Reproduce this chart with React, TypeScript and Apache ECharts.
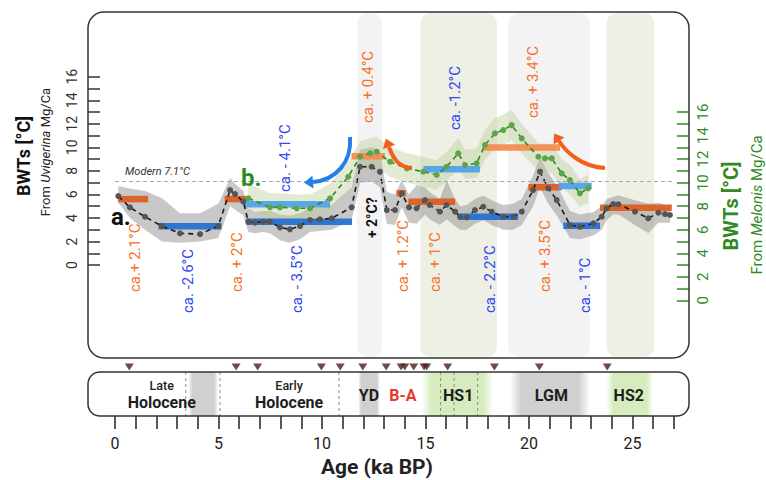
import { useEffect, useRef } from 'react';
import * as echarts from 'echarts';

const FONT = 'Roboto, "Noto Sans", sans-serif';

// Bottom-water temperature from Uvigerina Mg/Ca (left axis, °C)
const UVI_AGE = [0.16, 0.72, 1.45, 2.26, 3.14, 4.11, 4.99, 5.56, 5.8, 6.2, 6.44, 6.76, 7.16, 7.49, 7.97, 8.45, 8.94, 9.42, 9.9, 10.47, 11.43, 11.84, 12.4, 12.8, 13.13, 13.53, 13.85, 14.2, 14.57, 14.98, 15.2, 15.7, 16.02, 16.43, 16.67, 16.99, 17.39, 17.79, 18.2, 18.76, 19.24, 19.65, 20.2, 20.53, 20.93, 21.34, 21.98, 22.46, 23.11, 23.51, 23.75, 24.07, 24.32, 25.12, 25.76, 26.25, 26.57, 26.81];
const UVI_BWT = [5.86, 4.9, 4.1, 3.31, 2.69, 2.63, 3.31, 6.37, 6.03, 5.38, 3.68, 3.6, 3.68, 3.68, 3.2, 3.03, 3.31, 3.82, 3.88, 3.97, 4.9, 8.35, 8.35, 7.93, 4.67, 4.67, 6.09, 4.9, 4.82, 5.52, 5.1, 4.53, 5.1, 4.53, 4.1, 4.05, 4.67, 4.95, 4.53, 4.1, 4.1, 4.53, 6.37, 7.93, 6.52, 5.52, 3.4, 3.25, 3.54, 4.1, 4.82, 5.18, 5.16, 4.53, 3.97, 4.44, 4.33, 4.25];
const UVI_LO = [5.3, 4.0, 3.0, 2.0, 1.9, 2.0, 2.3, 5.0, 4.7, 4.2, 2.8, 2.7, 2.8, 2.7, 2.1, 1.9, 2.2, 2.8, 2.9, 3.0, 3.8, 7.0, 7.1, 6.6, 3.5, 3.4, 4.9, 3.6, 3.5, 4.3, 3.9, 3.4, 3.9, 3.3, 3.0, 3.0, 3.5, 3.8, 3.4, 3.0, 3.0, 3.4, 5.0, 6.6, 5.2, 4.2, 2.3, 2.2, 2.5, 3.0, 3.8, 4.3, 4.3, 3.4, 2.7, 3.6, 3.6, 3.6];
const UVI_HI = [6.7, 6.5, 6.3, 5.7, 4.4, 4.4, 5.2, 7.4, 6.9, 6.3, 4.8, 4.5, 4.6, 4.6, 4.3, 4.2, 4.4, 4.9, 4.9, 5.1, 6.6, 9.8, 10.0, 9.6, 6.2, 6.0, 7.2, 6.0, 6.8, 6.6, 6.2, 5.6, 7.2, 5.6, 5.0, 5.1, 5.6, 5.9, 5.5, 5.1, 5.2, 5.6, 7.6, 9.2, 7.8, 6.8, 4.6, 4.3, 4.5, 5.0, 5.6, 5.8, 5.9, 5.5, 5.2, 5.3, 5.1, 5.0];

// Bottom-water temperature from Melonis Mg/Ca (right axis, °C)
const MEL_AGE = [6.44, 7.49, 7.97, 8.78, 9.42, 10.39, 11.27, 11.84, 12.32, 12.64, 13.29, 14.1, 14.9, 15.54, 16.02, 16.58, 16.91, 17.47, 17.87, 18.36, 18.76, 19.16, 19.65, 20.45, 20.77, 21.1, 21.58, 21.98, 22.46, 22.86];
const MEL_BWT = [8.67, 7.9, 7.9, 7.82, 7.82, 8.67, 10.5, 12.2, 12.49, 12.63, 11.78, 11.2, 10.93, 10.65, 11.35, 12.49, 11.5, 11.64, 13.2, 14.19, 14.47, 14.89, 13.76, 12.2, 12.06, 12.06, 10.79, 10.22, 9.09, 9.52];
const MEL_LO = [7.6, 6.8, 6.7, 6.6, 6.6, 7.4, 9.2, 10.9, 11.2, 11.3, 10.5, 10.0, 9.7, 9.4, 10.1, 11.2, 10.3, 10.4, 11.9, 12.9, 13.2, 13.6, 12.5, 11.0, 10.8, 10.8, 9.6, 9.0, 7.9, 8.3];
const MEL_HI = [9.9, 9.1, 9.1, 9.0, 9.0, 9.9, 11.8, 13.5, 13.8, 13.9, 13.0, 12.5, 12.2, 11.9, 12.6, 13.8, 12.8, 12.9, 14.5, 15.5, 15.8, 16.2, 15.0, 13.4, 13.3, 13.3, 12.0, 11.5, 10.3, 10.7];

// Mean levels per interval: [from ka, to ka, °C]
const UVI_WARM = [[0.15, 1.6, 5.6], [5.3, 6.36, 5.6], [13.6, 14.05, 6.1], [14.17, 16.43, 5.38], [19.97, 21.58, 6.6], [23.43, 26.9, 4.87]];
const UVI_COLD = [[2.1, 5.15, 3.3], [6.36, 11.45, 3.68], [16.58, 19.48, 4.1], [21.66, 23.43, 3.34]];
const MEL_WARM = [[11.43, 13.04, 12.24], [17.79, 21.5, 12.98]];
const MEL_COLD = [[6.28, 10.39, 8.16], [14.9, 17.63, 11.14], [21.42, 23.03, 9.72]];

const MODERN_BWT = 7.1;

// Temperature-change notes: text, age, base level (left axis), tone (0 warm, 1 cold, 2 note)
const CHANGE_TEXT = ['ca.+ 2.1°C', 'ca. -2.6°C', 'ca. + 2°C', 'ca. - 3.5°C', '+ 2°C?', 'ca. + 1.2°C', 'ca. + 1°C', 'ca. - 2.2°C', 'ca. + 3.5°C', 'ca. - 1°C', 'ca. - 4.1°C', 'ca. + 0.4°C', 'ca. -1.2°C', 'ca. + 3.4°C'];
const CHANGE_AGE = [0.97, 3.54, 5.88, 8.78, 12.4, 13.93, 15.46, 18.12, 20.77, 22.71, 8.21, 12.22, 16.43, 20.2];
const CHANGE_BASE = [-2.29, -4.08, -2.29, -4.08, 2.29, -2.29, -2.29, -4.08, -2.29, -4.08, 6.2, 12.06, 11.47, 12.49];
const CHANGE_TONE = [0, 1, 0, 1, 2, 0, 0, 1, 0, 1, 1, 0, 1, 0];

// Climate periods shaded behind the records
const PERIOD_START = [11.7, 14.75, 19.0, 23.75];
const PERIOD_END = [12.9, 18.45, 22.95, 26.05];
const PERIOD_TONE = [0, 1, 0, 1]; // 0 grey, 1 green

// Chronostratigraphic strip
const STRIP_BAND_START = [3.54, 11.75, 14.82, 19.08, 23.75];
const STRIP_BAND_END = [4.99, 12.8, 18.28, 22.95, 26.0];
const STRIP_BAND_TONE = [0, 0, 1, 0, 1];
const STRIP_BOUNDARIES = [3.42, 5.07, 10.82, 15.73, 16.38, 17.52];
const STRIP_TEXT = ['Late', 'Holocene', 'Early', 'Holocene', 'YD', 'B-A', 'HS1', 'LGM', 'HS2'];
const STRIP_TEXT_AGE = [2.26, 2.26, 8.41, 8.41, 12.27, 13.91, 16.58, 21.08, 24.82];
const STRIP_TEXT_ROW = [0, 1, 0, 1, 2, 2, 2, 2, 2];
const DATED_LEVELS = [0.69, 5.85, 6.89, 9.97, 10.88, 11.97, 13.1, 13.82, 14.0, 14.43, 14.93, 15.06, 16.07, 18.33, 20.5, 23.78];

const BWT_TICKS = [0, 1, 2, 3, 4, 5, 6, 7, 8, 9, 10, 11, 12, 13, 14, 15, 16];
const BWT_LABELS = [0, 2, 4, 6, 8, 10, 12, 14, 16];
const AGE_TICKS = Array.from({ length: 28 }, (_, i) => i);
const AGE_LABELS = [0, 5, 10, 15, 20, 25];
const AGE_MIN = 0;
const AGE_MAX = 27;

const GREEN = '#2f8a22';
const WARM_A = '#dd5a1c';
const COLD_A = '#1f6fd3';
const WARM_B = '#f48a4c';
const COLD_B = '#4ea0ea';

// plot geometry (px)
const PX_PER_KA = 20.7;
const AGE0_X = 115;
const UPPER_LEFT = 100;

function envelope(age: number[], lo: number[], hi: number[], yAxisIndex: number, fill: string, z: number) {
  return {
    type: 'custom', xAxisIndex: 0, yAxisIndex, z, silent: true,
    data: [[age[0], lo[0]]],
    renderItem: (_p: any, api: any) => {
      const top = age.map((a, i) => api.coord([a, hi[i]]));
      const bottom = age.map((a, i) => api.coord([a, lo[i]])).reverse();
      return { type: 'polygon', shape: { points: top.concat(bottom) }, style: { fill } };
    },
  };
}

function levels(rows: number[][], yAxisIndex: number, color: string, z: number) {
  return {
    type: 'custom', xAxisIndex: 0, yAxisIndex, z, silent: true,
    encode: { x: [0, 1], y: 2 },
    data: rows,
    renderItem: (_p: any, api: any) => {
      const a = api.coord([api.value(0), api.value(2)]);
      const b = api.coord([api.value(1), api.value(2)]);
      return { type: 'line', shape: { x1: a[0], y1: a[1], x2: b[0], y2: b[1] }, style: { stroke: color, lineWidth: 6.5, opacity: 0.92 } };
    },
  };
}

function arrow(p0: number[], c1: number[], c2: number[], p1: number[], color: string) {
  const dx = p1[0] - c2[0];
  const dy = p1[1] - c2[1];
  const len = Math.hypot(dx, dy);
  const ux = dx / len;
  const uy = dy / len;
  const nx = -uy;
  const ny = ux;
  return [
    {
      type: 'bezierCurve', silent: true, z: 50,
      shape: { x1: p0[0], y1: p0[1], cpx1: c1[0], cpy1: c1[1], cpx2: c2[0], cpy2: c2[1], x2: p1[0], y2: p1[1] },
      style: { stroke: color, lineWidth: 4, fill: null },
    },
    {
      type: 'polygon', silent: true, z: 50,
      shape: { points: [[p1[0] + ux * 9, p1[1] + uy * 9], [p1[0] + nx * 6.5, p1[1] + ny * 6.5], [p1[0] - nx * 6.5, p1[1] - ny * 6.5]] },
      style: { fill: color },
    },
  ];
}

function fade(color: string) {
  const clear = color.replace(/,\s*[\d.]+\)$/, ',0)');
  return new echarts.graphic.LinearGradient(0, 0, 1, 0, [
    { offset: 0, color: clear },
    { offset: 0.14, color },
    { offset: 0.86, color },
    { offset: 1, color: clear },
  ]);
}

export default function App() {
  const ref = useRef<HTMLDivElement>(null);

  useEffect(() => {
    if (!ref.current) return;
    const chart = echarts.init(ref.current, undefined, { renderer: 'svg' });

    const upperMin = AGE_MIN - (AGE0_X - UPPER_LEFT) / PX_PER_KA;
    const plotRight = AGE0_X + AGE_MAX * PX_PER_KA;

    const option: any = {
      animation: false,
      backgroundColor: '#fff',
      textStyle: { fontFamily: FONT },
      grid: [
        { left: UPPER_LEFT, top: 12, width: plotRight - UPPER_LEFT, height: 346 },
        { left: AGE0_X, top: 360, width: plotRight - AGE0_X, height: 56 },
      ],
      xAxis: [
        { gridIndex: 0, type: 'value', min: upperMin, max: AGE_MAX, show: false },
        {
          gridIndex: 1, type: 'value', min: AGE_MIN, max: AGE_MAX, interval: 1,
          axisLine: { show: false, onZero: false },
          axisTick: { show: true, customValues: AGE_TICKS, length: 13, lineStyle: { color: '#222', width: 1.5 } },
          axisLabel: { customValues: AGE_LABELS, margin: 19, fontSize: 16, color: '#222', fontFamily: FONT },
          splitLine: { show: false },
          name: 'Age (ka BP)', nameLocation: 'middle', nameGap: 40,
          nameTextStyle: { fontSize: 21, fontWeight: 'bold', color: '#222', fontFamily: FONT, padding: [0, 35, 0, 0] },
        },
      ],
      yAxis: [
        {
          gridIndex: 0, type: 'value', min: -7.9, max: 21.5, position: 'left',
          axisLine: { show: false, onZero: false },
          axisTick: { show: true, customValues: BWT_TICKS, length: 12, lineStyle: { color: '#333', width: 1.5 } },
          axisLabel: { customValues: BWT_LABELS, rotate: 90, margin: 21, fontSize: 14, color: '#333', fontFamily: FONT },
          splitLine: { show: false },
        },
        {
          gridIndex: 0, type: 'value', min: -4.9, max: 24.5, position: 'right', offset: 15,
          axisLine: { show: false, onZero: false },
          axisTick: { show: true, inside: true, customValues: BWT_TICKS, length: 12, lineStyle: { color: GREEN, width: 1.5 } },
          axisLabel: { customValues: BWT_LABELS, rotate: 90, margin: 7, fontSize: 15, color: GREEN, fontFamily: FONT },
          splitLine: { show: false },
        },
        { gridIndex: 1, type: 'value', min: 0, max: 56, show: false },
      ],
      series: [
        // climate periods behind the records
        {
          type: 'custom', xAxisIndex: 0, yAxisIndex: 0, z: 0, silent: true,
          encode: { x: [0, 1] },
          data: PERIOD_START.map((s, i) => [s, PERIOD_END[i], PERIOD_TONE[i]]),
          renderItem: (params: any, api: any) => {
            const x0 = api.coord([api.value(0), 0])[0];
            const x1 = api.coord([api.value(1), 0])[0];
            const cs = params.coordSys;
            return {
              type: 'rect',
              shape: { x: x0, y: cs.y + 1, width: x1 - x0, height: cs.height - 2, r: 10 },
              style: { fill: api.value(2) === 1 ? '#eef0e5' : '#f3f3f3' },
            };
          },
        },
        envelope(UVI_AGE, UVI_LO, UVI_HI, 0, 'rgba(140,140,140,0.48)', 1),
        envelope(MEL_AGE, MEL_LO, MEL_HI, 1, 'rgba(185,205,150,0.42)', 1),
        levels(UVI_WARM, 0, WARM_A, 2),
        levels(UVI_COLD, 0, COLD_A, 2),
        levels(MEL_WARM, 1, WARM_B, 2),
        levels(MEL_COLD, 1, COLD_B, 2),
        {
          type: 'line', xAxisIndex: 0, yAxisIndex: 0, z: 3, silent: true,
          data: UVI_AGE.map((a, i) => [a, UVI_BWT[i]]),
          symbol: 'circle', symbolSize: 6,
          itemStyle: { color: '#555' },
          lineStyle: { color: '#1a1a1a', width: 1.6, type: [5, 4] },
          markLine: {
            silent: true, symbol: 'none',
            data: [[{ coord: [AGE_MIN, MODERN_BWT] }, { coord: [AGE_MAX, MODERN_BWT] }]],
            lineStyle: { color: '#a8a8a8', width: 1, type: [4, 3] },
            label: {
              position: 'insideStartTop', distance: [10, 4],
              formatter: `Modern ${MODERN_BWT}°C`,
              fontStyle: 'italic', fontSize: 11, color: '#333', fontFamily: FONT,
            },
          },
        },
        {
          type: 'line', xAxisIndex: 0, yAxisIndex: 1, z: 3, silent: true,
          data: MEL_AGE.map((a, i) => [a, MEL_BWT[i]]),
          symbol: 'circle', symbolSize: 6,
          itemStyle: { color: '#5aa545' },
          lineStyle: { color: GREEN, width: 1.6, type: [5, 4] },
        },
        // temperature-change notes
        {
          type: 'custom', xAxisIndex: 0, yAxisIndex: 0, z: 4, silent: true,
          data: CHANGE_AGE.map((a, i) => [a, CHANGE_BASE[i], CHANGE_TONE[i]]),
          renderItem: (params: any, api: any) => {
            const p = api.coord([api.value(0), api.value(1)]);
            const tone = api.value(2);
            const fill = tone === 0 ? '#f5712a' : tone === 1 ? '#2f46f2' : '#111';
            const font = tone === 2 ? `bold 14px ${FONT}` : `15px ${FONT}`;
            return {
              type: 'text', x: p[0], y: p[1], rotation: Math.PI / 2,
              style: { text: CHANGE_TEXT[params.dataIndex], fill, font, align: 'left', verticalAlign: 'middle' },
            };
          },
        },
        // strip: period shading
        {
          type: 'custom', xAxisIndex: 1, yAxisIndex: 2, z: 0, silent: true,
          encode: { x: [0, 1] },
          data: STRIP_BAND_START.map((s, i) => [s, STRIP_BAND_END[i], STRIP_BAND_TONE[i]]),
          renderItem: (_p: any, api: any) => {
            const a = api.coord([api.value(0), 44]);
            const b = api.coord([api.value(1), 0]);
            const color = api.value(2) === 1 ? 'rgba(214,236,190,1)' : 'rgba(208,208,208,1)';
            return {
              type: 'rect',
              shape: { x: a[0], y: a[1], width: b[0] - a[0], height: b[1] - a[1] },
              style: { fill: fade(color) },
            };
          },
        },
        // strip: boundaries
        {
          type: 'custom', xAxisIndex: 1, yAxisIndex: 2, z: 1, silent: true,
          data: STRIP_BOUNDARIES.map((b) => [b, 0]),
          renderItem: (_p: any, api: any) => {
            const a = api.coord([api.value(0), 44]);
            const b = api.coord([api.value(0), 0]);
            return {
              type: 'line', shape: { x1: a[0], y1: a[1], x2: b[0], y2: b[1] },
              style: { stroke: '#8a8a8a', lineWidth: 1, lineDash: [3, 3] },
            };
          },
        },
        // strip: period names
        {
          type: 'custom', xAxisIndex: 1, yAxisIndex: 2, z: 2, silent: true,
          data: STRIP_TEXT_AGE.map((a, i) => [a, STRIP_TEXT_ROW[i] === 0 ? 31 : STRIP_TEXT_ROW[i] === 1 ? 13.3 : 21]),
          renderItem: (params: any, api: any) => {
            const p = api.coord([api.value(0), api.value(1)]);
            const text = STRIP_TEXT[params.dataIndex];
            const small = STRIP_TEXT_ROW[params.dataIndex] === 0;
            return {
              type: 'text', x: p[0], y: p[1],
              style: {
                text,
                fill: text === 'B-A' ? '#e53a2c' : '#1e1e1e',
                font: small ? `500 12.5px ${FONT}` : `bold 16px ${FONT}`,
                align: 'center', verticalAlign: 'middle',
              },
            };
          },
        },
        // strip: dated levels
        {
          type: 'scatter', xAxisIndex: 1, yAxisIndex: 2, z: 3, silent: true,
          data: DATED_LEVELS.map((a) => [a, 49]),
          symbol: 'triangle', symbolRotate: 180, symbolSize: [9, 7],
          itemStyle: { color: '#4a1d1d' },
        },
      ],
      graphic: [
        { type: 'rect', z: 60, silent: true, shape: { x: 88, y: 12, width: 601, height: 346, r: 16 }, style: { fill: null, stroke: '#333', lineWidth: 1.5 } },
        { type: 'rect', z: 60, silent: true, shape: { x: 88, y: 372, width: 601, height: 44, r: 12 }, style: { fill: null, stroke: '#333', lineWidth: 1.5 } },
        { type: 'text', z: 60, silent: true, x: 23, y: 156, rotation: Math.PI / 2, style: { text: 'BWTs [°C]', font: `bold 18px ${FONT}`, fill: '#111', align: 'center', verticalAlign: 'middle' } },
        {
          type: 'text', z: 60, silent: true, x: 45, y: 152, rotation: Math.PI / 2,
          style: {
            text: '{n|From }{i|Uvigerina}{n| Mg/Ca}', align: 'center', verticalAlign: 'middle',
            rich: {
              n: { fontSize: 13, fontFamily: FONT, fill: '#222' },
              i: { fontSize: 13, fontFamily: FONT, fontStyle: 'italic', fill: '#222' },
            },
          },
        },
        { type: 'text', z: 60, silent: true, x: 731, y: 206, rotation: Math.PI / 2, style: { text: 'BWTs [°C]', font: `bold 20px ${FONT}`, fill: GREEN, align: 'center', verticalAlign: 'middle' } },
        {
          type: 'text', z: 60, silent: true, x: 757, y: 205, rotation: Math.PI / 2,
          style: {
            text: '{n|From }{i|Melonis}{n| Mg/Ca}', align: 'center', verticalAlign: 'middle',
            rich: {
              n: { fontSize: 15, fontFamily: FONT, fill: GREEN },
              i: { fontSize: 15, fontFamily: FONT, fontStyle: 'italic', fill: GREEN },
            },
          },
        },
        { type: 'text', z: 60, silent: true, x: 111, y: 217, style: { text: 'a.', font: `bold 24px ${FONT}`, fill: '#111', align: 'left', verticalAlign: 'middle' } },
        { type: 'text', z: 60, silent: true, x: 241, y: 178, style: { text: 'b.', font: `bold 24px ${FONT}`, fill: GREEN, align: 'left', verticalAlign: 'middle' } },
        ...arrow([350, 137], [352, 162], [336, 180], [313, 182], '#2580e6'),
        ...arrow([412, 168], [398, 167], [393, 158], [389, 147], '#f2601c'),
        ...arrow([605, 168], [582, 167], [566, 152], [559, 141], '#f2601c'),
      ],
    };

    chart.setOption(option);
    return () => chart.dispose();
  }, []);

  return <div ref={ref} style={{ position: 'fixed', left: 0, top: 0, width: 766, height: 480, background: '#fff' }} />;
}
